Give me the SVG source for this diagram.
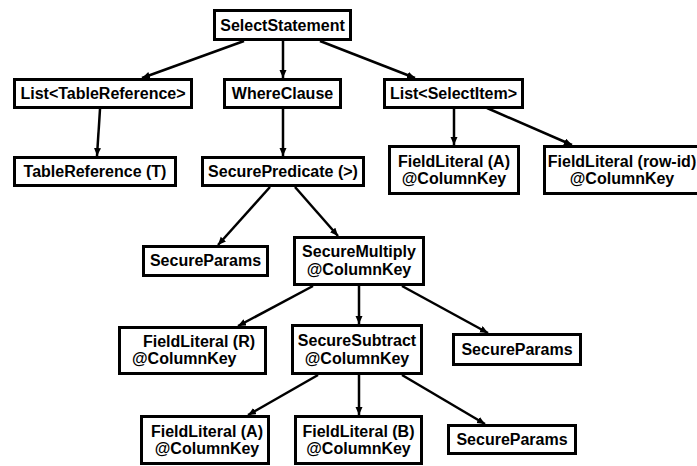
<svg xmlns="http://www.w3.org/2000/svg" width="697" height="466" viewBox="0 0 697 466">
<style>
.box{fill:#fff;stroke:#000;stroke-width:3}
.t{font-family:"Liberation Sans",Arial,Helvetica,sans-serif;font-weight:bold;font-size:16px;fill:#000;text-anchor:middle}
.ts{font-family:"Liberation Sans",Arial,Helvetica,sans-serif;font-weight:bold;font-size:16px;fill:#000}
.e{stroke:#000;stroke-width:2.5;fill:none;marker-end:url(#ah)}
</style>
<defs>
<marker id="ah" markerUnits="userSpaceOnUse" markerWidth="9" markerHeight="8" refX="8" refY="3.5" orient="auto">
<path d="M0,0 L8,3.5 L0,7 z" fill="#000"/>
</marker>
</defs>
<rect width="697" height="466" fill="#fff"/>
<g id="connectors">
<line class="e" x1="244" y1="41" x2="142" y2="78"/>
<line class="e" x1="283" y1="41" x2="283" y2="78"/>
<line class="e" x1="320" y1="41" x2="415" y2="78"/>
<line class="e" x1="100" y1="109" x2="97" y2="156"/>
<line class="e" x1="283" y1="109" x2="283" y2="156"/>
<line class="e" x1="454" y1="109" x2="454" y2="145"/>
<line class="e" x1="487" y1="108" x2="572" y2="145"/>
<line class="e" x1="270" y1="187" x2="218" y2="245"/>
<line class="e" x1="295" y1="187" x2="338" y2="236"/>
<line class="e" x1="313" y1="286" x2="238" y2="326"/>
<line class="e" x1="359" y1="286" x2="359" y2="324"/>
<line class="e" x1="402" y1="286" x2="488" y2="333"/>
<line class="e" x1="318" y1="375" x2="248" y2="415"/>
<line class="e" x1="359" y1="375" x2="359" y2="415"/>
<line class="e" x1="402" y1="375" x2="485" y2="424"/>
</g>
<g id="selectStatement"><rect class="box" x="214.5" y="10.5" width="136" height="29"/><text class="t" x="282.5" y="31">SelectStatement</text></g>
<g id="listTableReference"><rect class="box" x="14.5" y="79.5" width="177" height="28"/><text class="t" x="103" y="99">List&lt;TableReference&gt;</text></g>
<g id="whereClause"><rect class="box" x="224.5" y="79.5" width="116" height="28"/><text class="t" x="282.5" y="99">WhereClause</text></g>
<g id="listSelectItem"><rect class="box" x="384.5" y="79.5" width="138" height="28"/><text class="t" x="453.5" y="99">List&lt;SelectItem&gt;</text></g>
<g id="tableReference"><rect class="box" x="14.5" y="157.5" width="161" height="28"/><text class="t" x="95" y="177">TableReference (T)</text></g>
<g id="securePredicate"><rect class="box" x="202.5" y="157.5" width="161" height="28"/><text class="t" x="283" y="177">SecurePredicate (&gt;)</text></g>
<g id="fieldLiteralA1"><rect class="box" x="389.5" y="146.5" width="129" height="47"/><text class="t" x="454" y="167">FieldLiteral (A)</text><text class="t" x="454" y="184">@ColumnKey</text></g>
<g id="fieldLiteralRowId"><rect class="box" x="544.5" y="146.5" width="160" height="47"/><text class="t" x="622" y="167">FieldLiteral (row-id)</text><text class="t" x="622" y="184">@ColumnKey</text></g>
<g id="secureParams1"><rect class="box" x="143.5" y="246.5" width="124" height="29"/><text class="t" x="205.5" y="266">SecureParams</text></g>
<g id="secureMultiply"><rect class="box" x="294.5" y="237.5" width="129" height="47"/><text class="t" x="359" y="257">SecureMultiply</text><text class="t" x="359" y="275">@ColumnKey</text></g>
<g id="fieldLiteralR"><rect class="box" x="119.5" y="327.5" width="146" height="46"/><text class="ts" x="143" y="347">FieldLiteral (R)</text><text class="ts" x="132" y="364">@ColumnKey</text></g>
<g id="secureSubtract"><rect class="box" x="292.5" y="325.5" width="129" height="48"/><text class="t" x="357" y="346">SecureSubtract</text><text class="t" x="357" y="364">@ColumnKey</text></g>
<g id="secureParams2"><rect class="box" x="453.5" y="334.5" width="127" height="30"/><text class="t" x="517" y="355">SecureParams</text></g>
<g id="fieldLiteralA2"><rect class="box" x="141.5" y="416.5" width="127" height="47"/><text class="t" x="207" y="437">FieldLiteral (A)</text><text class="t" x="207" y="454">@ColumnKey</text></g>
<g id="fieldLiteralB"><rect class="box" x="295.5" y="416.5" width="126" height="47"/><text class="t" x="358.5" y="437">FieldLiteral (B)</text><text class="t" x="358.5" y="454">@ColumnKey</text></g>
<g id="secureParams3"><rect class="box" x="448.5" y="425.5" width="127" height="28"/><text class="t" x="512" y="445">SecureParams</text></g>
</svg>
